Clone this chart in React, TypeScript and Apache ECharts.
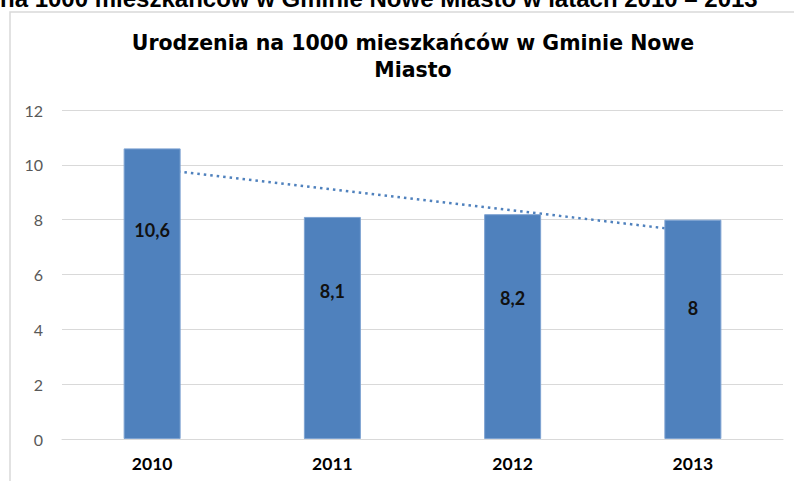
import React, { useEffect, useRef } from "react";
import * as echarts from "echarts";

const categories = ["2010", "2011", "2012", "2013"];
const births = [10.6, 8.1, 8.2, 8];
const birthLabels = ["10,6", "8,1", "8,2", "8"];
const trendValues: (number | null)[] = [9.87, null, null, 7.57];
const yTicks = { min: 0, max: 12, interval: 2 };

const chartTitle = "Urodzenia na 1000 mieszkańców w Gminie Nowe\nMiasto";
const pageHeading = "na 1000 mieszkańców w Gminie Nowe Miasto w latach 2010 – 2013";

// label vertical offsets (px), style only
const labelShift = [-64, -37, -29, -21];

export default function App() {
  const ref = useRef<HTMLDivElement>(null);
  useEffect(() => {
    if (!ref.current) return;
    const chart = echarts.init(ref.current, null, { renderer: "svg" });
    const option = {
      animation: false,
      backgroundColor: "#ffffff",
      title: {
        text: chartTitle,
        left: 408,
        top: 24,
        textAlign: "center",
        textStyle: {
          fontFamily: "DejaVu Sans",
          fontWeight: "bold",
          fontSize: 20.5,
          lineHeight: 27,
          color: "#000000",
        },
      },
      graphic: [
        {
          type: "rect",
          shape: { x: 10, y: 12, width: 900, height: 600 },
          style: { fill: "none", stroke: "#d9d9d9", lineWidth: 1.5 },
          silent: true,
          z: -10,
        },
        {
          type: "text",
          x: 0,
          y: -2,
          style: {
            text: pageHeading,
            font: 'bold 24px "Liberation Sans"',
            fill: "#000000",
            verticalAlign: "middle",
            align: "left",
          },
          silent: true,
        },
      ],
      grid: { left: 62, right: 11, top: 110, bottom: 42, containLabel: false },
      xAxis: {
        type: "category",
        data: categories,
        axisLine: { show: true, lineStyle: { color: "#d9d9d9", width: 1 } },
        axisTick: { show: false },
        axisLabel: {
          margin: 15,
          fontFamily: "Lato",
          fontWeight: "bold",
          fontSize: 17.5,
          color: "#000000",
        },
      },
      yAxis: {
        type: "value",
        min: yTicks.min,
        max: yTicks.max,
        interval: yTicks.interval,
        axisLine: { show: false },
        axisTick: { show: false },
        axisLabel: {
          margin: 19,
          fontFamily: "Lato",
          fontSize: 16,
          color: "#595959",
        },
        splitLine: { lineStyle: { color: "#d9d9d9", width: 1 } },
      },
      series: [
        {
          type: "line",
          data: trendValues,
          connectNulls: true,
          symbol: "none",
          z: 1,
          lineStyle: { color: "#4f81bd", width: 2.5, type: [2.5, 4] },
        },
        {
          type: "bar",
          z: 3,
          barWidth: 57,
          data: births.map((v, i) => ({
            value: v,
            label: { offset: [0, labelShift[i]] },
          })),
          itemStyle: { color: "#4f81bd", borderColor: "#7ea3d2", borderWidth: 1 },
          label: {
            show: true,
            position: "inside",
            formatter: (p: any) => birthLabels[p.dataIndex],
            fontFamily: "Lato",
            fontWeight: "bold",
            fontSize: 18,
            color: "#111111",
          },
        },
      ],
    };
    chart.setOption(option as any);
    return () => chart.dispose();
  }, []);
  return (
    <div
      ref={ref}
      style={{ position: "fixed", left: 0, top: 0, width: 794, height: 481 }}
    />
  );
}
